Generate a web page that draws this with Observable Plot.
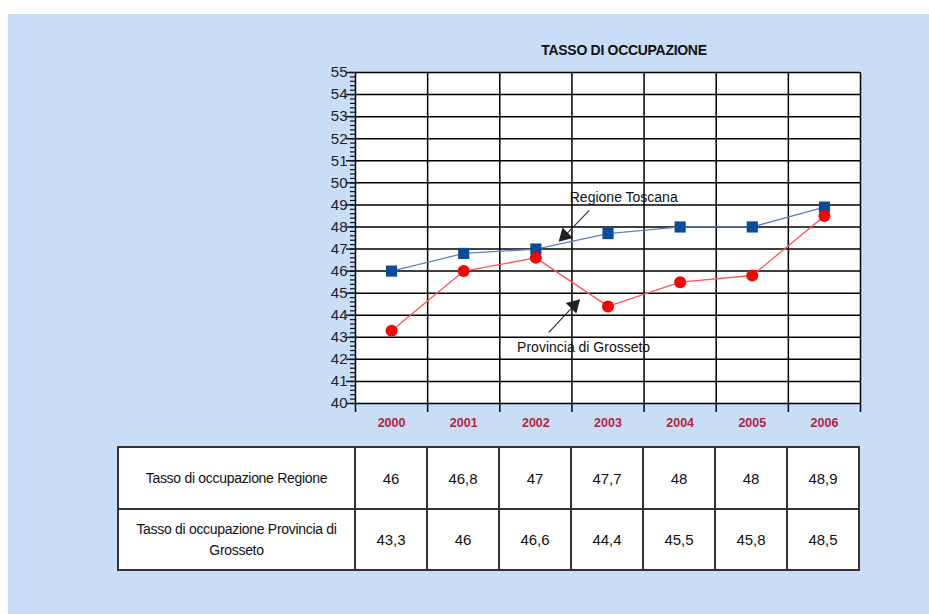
<!DOCTYPE html>
<html>
<head>
<meta charset="utf-8">
<script src="https://cdn.jsdelivr.net/npm/d3@7"></script>
<script src="https://cdn.jsdelivr.net/npm/@observablehq/plot@0.6"></script>
<style>
  html, body { margin: 0; padding: 0; background: #ffffff; }
  #page { position: relative; width: 929px; height: 614px; overflow: hidden; }
  #bg { position: absolute; left: 8px; top: 14px; right: 0; bottom: 0; background: #c9ddf7; }
  #title { position: absolute; left: 355px; width: 538px; top: 42px; text-align: center;
    font-family: "Liberation Sans Narrow", "Liberation Sans", Arial, sans-serif;
    font-weight: bold; font-size: 14px; color: #111; letter-spacing: -0.3px; }
  #chart { position: absolute; left: 0; top: 0; }
  #tbl { position: absolute; left: 117px; top: 446px; border-collapse: collapse; background: #fff;
    font-family: "Liberation Sans", Arial, sans-serif; color: #111; }
  #tbl td { border: 2px solid #333; text-align: center; padding: 0; }
  #tbl td.lab { font-family: "Liberation Sans Narrow", "Liberation Sans", Arial, sans-serif; font-size: 14px; line-height: 21px; letter-spacing: -0.3px; }
  #tbl td.val { font-size: 15px; }
</style>
</head>
<body>
<div id="page">
  <div id="bg"></div>
  <div id="chart"></div>
  <div id="title"></div>
  <table id="tbl"></table>
</div>
<script>
const title = "TASSO DI OCCUPAZIONE";
const years = [2000, 2001, 2002, 2003, 2004, 2005, 2006];
const regione = [46, 46.8, 47, 47.7, 48, 48, 48.9];
const provincia = [43.3, 46, 46.6, 44.4, 45.5, 45.8, 48.5];
const rowLabels = ["Tasso di occupazione Regione", "Tasso di occupazione Provincia di<br>Grosseto"];
const yMajor = d3.range(40, 56, 1);
const yMinor = d3.range(0, 76).map(i => 40 + i * 0.2);
const annotations = [
  {label: "Regione Toscana", tx: 2002.47, ty: 49.33, x1: 2002.74, y1: 48.75, x2: 2002.4, y2: 47.6, rot: 225},
  {label: "Provincia di Grosseto", tx: 2001.74, ty: 42.54, x1: 2002.18, y1: 43.22, x2: 2002.53, y2: 44.45, rot: 45}
];

const font = '"Liberation Sans Narrow", "Liberation Sans", Arial, sans-serif';
const bounds = years.map(y => y - 0.5).concat([years[years.length - 1] + 0.5]);
const regData = years.map((y, i) => ({year: y, v: regione[i]}));
const provData = years.map((y, i) => ({year: y, v: provincia[i]}));

document.getElementById("title").textContent = title;

const plot = Plot.plot({
  width: 929,
  height: 440,
  marginLeft: 355,
  marginRight: 69,
  marginTop: 72,
  marginBottom: 37,
  style: {background: "transparent", fontFamily: font, overflow: "visible"},
  x: {type: "linear", domain: [bounds[0], bounds[bounds.length - 1]], axis: null},
  y: {domain: [40, 55], axis: null},
  marks: [
    Plot.rect([0], {x1: bounds[0], x2: bounds[bounds.length - 1], y1: 40, y2: 55, fill: "white"}),
    Plot.ruleY(yMajor, {stroke: "#000", strokeWidth: 1.5}),
    Plot.ruleX(bounds, {stroke: "#000", strokeWidth: 1.5}),
    Plot.axisX({ticks: bounds, tickSize: 9, tickFormat: () => "", stroke: "#000", strokeWidth: 1.5}),
    Plot.axisX({ticks: years, tickSize: 0, tickPadding: 15, tickFormat: d => String(d),
      fill: "#b3263a", fontSize: 12.5, fontWeight: "bold"}),
    Plot.axisY({ticks: yMinor, tickSize: 5, tickFormat: () => "", stroke: "#111", strokeWidth: 1.2}),
    Plot.axisY({ticks: yMajor, tickSize: 9, tickPadding: -1, tickFormat: d => String(d),
      stroke: "#111", strokeWidth: 1.5, fill: "#222", fontSize: 15, letterSpacing: "-0.5px"}),
    Plot.line(regData, {x: "year", y: "v", stroke: "#5b7fc4", strokeWidth: 1.3}),
    Plot.dot(regData, {x: "year", y: "v", symbol: "square", r: 6.3, fill: "#0a4c9a", stroke: "none"}),
    Plot.line(provData, {x: "year", y: "v", stroke: "#ff5555", strokeWidth: 1.3}),
    Plot.dot(provData, {x: "year", y: "v", symbol: "circle", r: 6, fill: "#ff0000", stroke: "none"}),
    Plot.link(annotations, {x1: "x1", y1: "y1", x2: "x2", y2: "y2", stroke: "#333", strokeWidth: 1.2}),
    Plot.dot(annotations, {x: "x2", y: "y2", symbol: "triangle", r: 5.5, rotate: "rot", fill: "#222", stroke: "none"}),
    Plot.text(annotations, {x: "tx", y: "ty", text: "label", textAnchor: "start", fontSize: 14, letterSpacing: "-0.2px", fill: "#111"})
  ]
});
document.getElementById("chart").appendChild(plot);

// data table
const tbl = document.getElementById("tbl");
const fmt = v => String(v).replace(".", ",");
[regione, provincia].forEach((series, r) => {
  const tr = document.createElement("tr");
  tr.style.height = (r === 0 ? 62 : 61) + "px";
  const th = document.createElement("td");
  th.className = "lab";
  th.style.width = "235px";
  th.innerHTML = rowLabels[r];
  tr.appendChild(th);
  series.forEach(v => {
    const td = document.createElement("td");
    td.className = "val";
    td.style.width = "70px";
    td.textContent = fmt(v);
    tr.appendChild(td);
  });
  tbl.appendChild(tr);
});
</script>
</body>
</html>
